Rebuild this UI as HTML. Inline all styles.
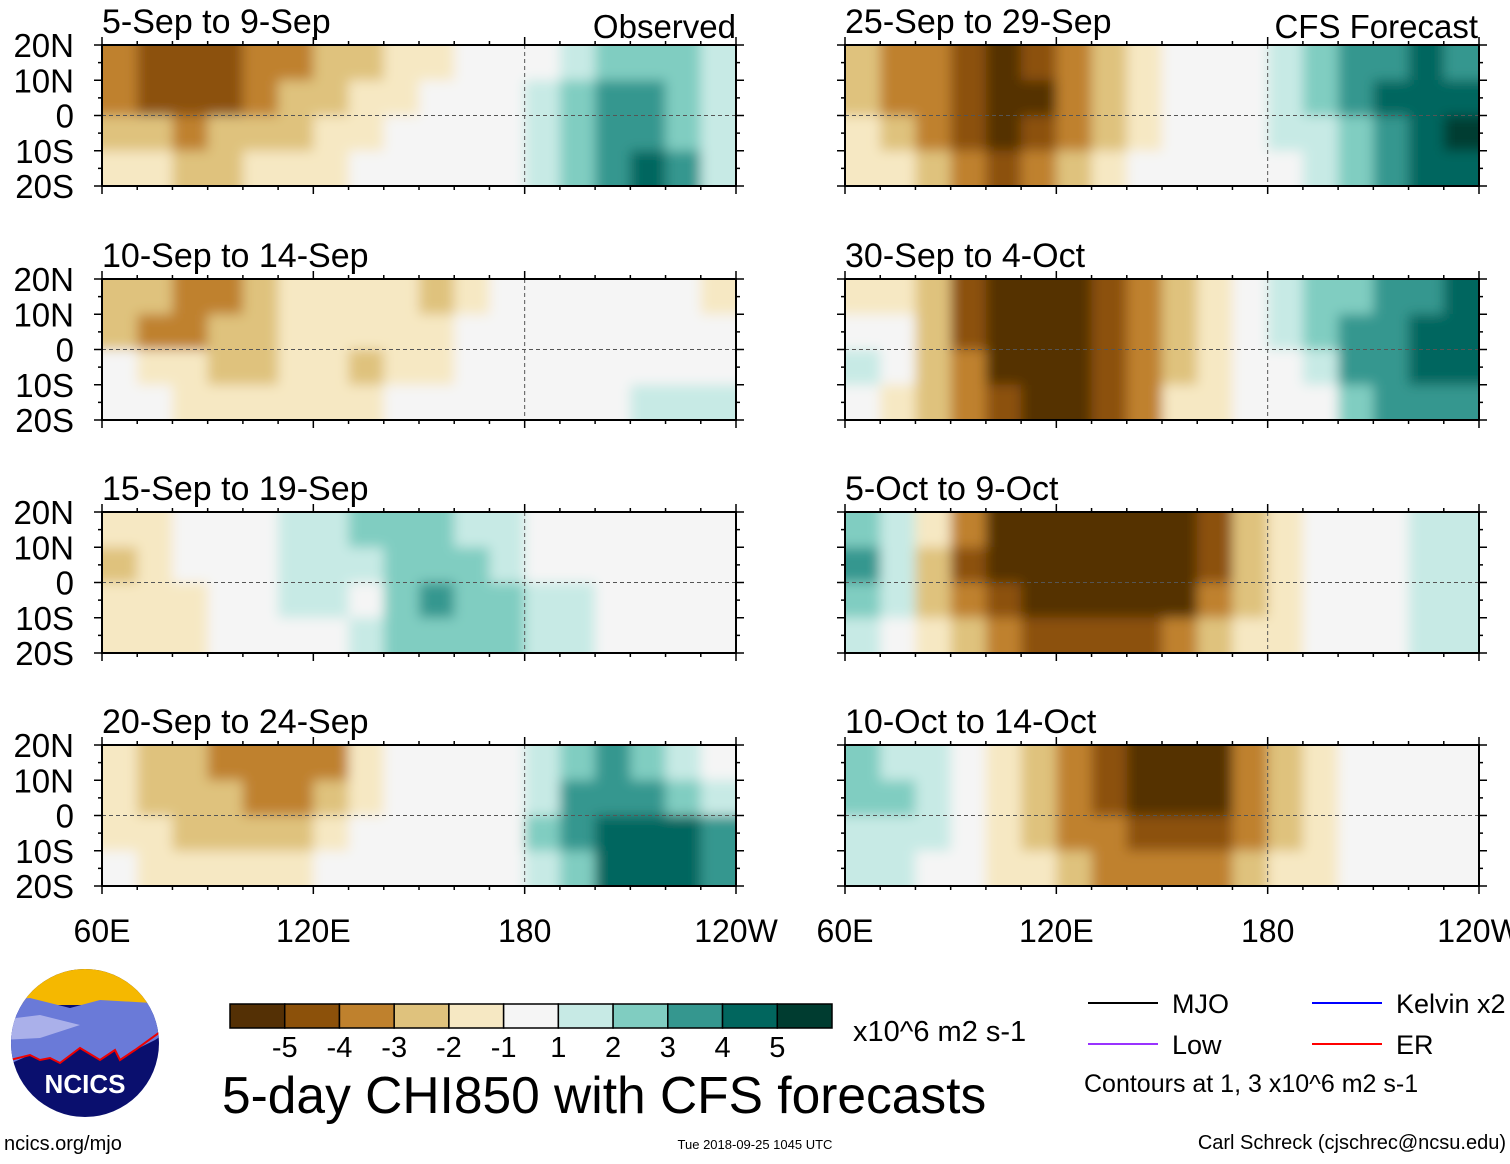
<!DOCTYPE html>
<html><head><meta charset="utf-8">
<style>
html,body{margin:0;padding:0;background:#fff;}
body{width:1510px;height:1159px;overflow:hidden;font-family:"Liberation Sans",sans-serif;}
svg text{font-family:"Liberation Sans",sans-serif;}
</style></head>
<body>
<svg id="chart" width="1510" height="1159" viewBox="0 0 1510 1159" xmlns="http://www.w3.org/2000/svg">
<defs>
<filter id="blur" filterUnits="userSpaceOnUse" x="0" y="0" width="1510" height="1159"><feGaussianBlur stdDeviation="6"/></filter>
</defs>
<g id="panels"></g>
<g id="bottom"></g>
</svg>
<script>
// ---- data ----
const lonStart = 60, lonEnd = 240, latTop = 20, latBottom = -20;
const colorBins = ["#543005","#8c510a","#bf812d","#dfc27d","#f6e8c3","#f5f5f5","#c7eae5","#80cdc1","#35978f","#01665e","#003c30"];
const colorTicks = ["-5","-4","-3","-2","-1","1","2","3","4","5"];
const panelTitles = ["5-Sep to 9-Sep","10-Sep to 14-Sep","15-Sep to 19-Sep","20-Sep to 24-Sep",
                     "25-Sep to 29-Sep","30-Sep to 4-Oct","5-Oct to 9-Oct","10-Oct to 14-Oct"];
const latLabels = ["20N","10N","0","10S","20S"];
const lonLabels = ["60E","120E","180","120W"];
const field0 = [
 [-3,-4,-4,-4,-3,-3,-2,-2,-1,-1,0,0,0,1,2,2,2,1],
 [-3,-4,-4,-4,-3,-2,-2,-1,-1,0,0,0,1,2,3,3,2,1],
 [-2,-2,-3,-2,-2,-2,-1,-1,0,0,0,0,1,2,3,3,2,1],
 [-1,-1,-2,-2,-1,-1,-1,0,0,0,0,0,1,2,3,4,3,1]];
const field1 = [
 [-2,-2,-3,-3,-2,-1,-1,-1,-1,-2,-1,0,0,0,0,0,0,-1],
 [-2,-3,-3,-2,-2,-1,-1,-1,-1,-1,0,0,0,0,0,0,0,0],
 [0,-1,-1,-2,-2,-1,-1,-2,-1,-1,0,0,0,0,0,0,0,0],
 [0,0,-1,-1,-1,-1,-1,-1,0,0,0,0,0,0,0,1,1,1]];
const field2 = [
 [-1,-1,0,0,0,1,1,2,2,2,1,1,0,0,0,0,0,0],
 [-2,-1,0,0,0,1,1,1,2,2,2,1,0,0,0,0,0,0],
 [-1,-1,-1,0,0,1,1,0,2,3,2,2,1,1,0,0,0,0],
 [-1,-1,-1,0,0,0,0,1,2,2,2,2,1,1,0,0,0,0]];
const field3 = [
 [-1,-2,-2,-3,-3,-3,-3,-1,0,0,0,0,1,2,3,2,1,0],
 [-1,-2,-2,-2,-3,-3,-2,-1,0,0,0,0,1,3,3,3,2,1],
 [-1,-1,-2,-2,-2,-2,-1,0,0,0,0,0,2,3,4,4,4,3],
 [0,-1,-1,-1,-1,-1,0,0,0,0,0,0,1,2,4,4,4,3]];
const field4 = [
 [-2,-3,-3,-4,-5,-4,-3,-2,-1,0,0,0,1,2,3,3,4,3],
 [-2,-3,-3,-4,-5,-5,-3,-2,-1,0,0,0,1,2,3,4,4,4],
 [-1,-2,-3,-4,-5,-4,-3,-2,-1,0,0,0,1,1,2,3,4,5],
 [-1,-1,-2,-3,-4,-3,-2,-1,0,0,0,0,0,1,2,3,4,4]];
const field5 = [
 [-1,-1,-2,-4,-5,-5,-5,-4,-3,-2,-1,0,1,2,2,3,3,4],
 [0,0,-2,-4,-5,-5,-5,-4,-3,-2,-1,0,1,2,3,3,4,4],
 [1,0,-2,-3,-5,-5,-5,-4,-3,-2,-1,0,0,1,3,3,4,4],
 [0,-1,-2,-3,-4,-5,-5,-4,-3,-1,-1,0,0,0,2,3,3,3]];
const field6 = [
 [2,1,-1,-3,-5,-5,-5,-5,-5,-5,-4,-2,-1,0,0,0,1,1],
 [3,1,-2,-4,-5,-5,-5,-5,-5,-5,-4,-2,-1,0,0,0,1,1],
 [2,1,-2,-3,-4,-5,-5,-5,-5,-5,-3,-2,-1,0,0,0,1,1],
 [1,0,-1,-2,-3,-4,-4,-4,-4,-3,-2,-1,-1,0,0,0,1,1]];
const field7 = [
 [2,1,1,0,-1,-2,-3,-4,-5,-5,-5,-3,-2,-1,0,0,0,0],
 [2,2,1,0,-1,-2,-3,-4,-5,-5,-5,-3,-2,-1,0,0,0,0],
 [1,1,1,0,-1,-2,-3,-3,-4,-4,-4,-3,-2,-1,0,0,0,0],
 [1,1,0,0,-1,-1,-2,-3,-3,-3,-3,-2,-1,-1,0,0,0,0]];
const fields = [field0,field1,field2,field3,field4,field5,field6,field7];

// ---- layout ----
const NS = "http://www.w3.org/2000/svg";
const colX = [102, 845], panelW = 634, rowY = [45, 279, 512, 745], panelH = 141;
function mk(tag, attrs, parent){ const e=document.createElementNS(NS,tag); for(const k in attrs) e.setAttribute(k,attrs[k]); parent.appendChild(e); return e; }
function colorFor(v){ return colorBins[Math.max(0,Math.min(10,v+5))]; }
const panelsG = document.getElementById('panels');

fields.forEach((f, p) => {
  const x0 = colX[Math.floor(p/4)], y0 = rowY[p%4];
  const xs = lon => x0 + (lon - lonStart)/(lonEnd - lonStart)*panelW;
  const ys = lat => y0 + (latTop - lat)/(latTop - latBottom)*panelH;
  const g = mk('g',{},panelsG);
  
  
  const cid = 'clip'+p;
  const cp = mk('clipPath',{id:cid},g); mk('rect',{x:x0,y:y0,width:panelW,height:panelH},cp);
  const cg = mk('g',{'clip-path':'url(#'+cid+')'},g);
  mk('rect',{x:x0,y:y0,width:panelW,height:panelH,fill:'#f5f5f5'},cg);
  const bg = mk('g',{filter:'url(#blur)'},cg);
  const nLat = f.length, nLon = f[0].length, dLon=(lonEnd-lonStart)/nLon, dLat=(latTop-latBottom)/nLat;
  f.forEach((row, r) => row.forEach((v, c) => {
    const lonA = lonStart + c*dLon, latA = latTop - r*dLat;
    const cell = mk('rect',{x:xs(lonA)-(c===0?20:0),y:ys(latA)-(r===0?20:0),
      width:xs(lonA+dLon)-xs(lonA)+1+(c===0||c===nLon-1?20:0),height:ys(latA-dLat)-ys(latA)+1+(r===0||r===nLat-1?20:0),fill:colorFor(v)},bg);
    
    
  }));
  mk('line',{x1:x0,x2:x0+panelW,y1:ys(0),y2:ys(0),stroke:'#555','stroke-width':1,'stroke-dasharray':'4,3'},g);
  mk('line',{x1:xs(180),x2:xs(180),y1:y0,y2:y0+panelH,stroke:'#555','stroke-width':1,'stroke-dasharray':'4,3'},g);
  mk('rect',{x:x0,y:y0,width:panelW,height:panelH,fill:'none',stroke:'#000','stroke-width':2},g);
  for(let lon=lonStart; lon<=lonEnd; lon+=10){
    const L = (lon%60===0)?8:4;
    mk('line',{x1:xs(lon),x2:xs(lon),y1:y0,y2:y0-L,stroke:'#000','stroke-width':1.5},g);
    mk('line',{x1:xs(lon),x2:xs(lon),y1:y0+panelH,y2:y0+panelH+L,stroke:'#000','stroke-width':1.5},g);
  }
  for(let lat=-20; lat<=20; lat+=5){
    const L = (lat%10===0)?8:4;
    mk('line',{x1:x0,x2:x0-L,y1:ys(lat),y2:ys(lat),stroke:'#000','stroke-width':1.5},g);
    mk('line',{x1:x0+panelW,x2:x0+panelW+L,y1:ys(lat),y2:ys(lat),stroke:'#000','stroke-width':1.5},g);
  }
  const t = mk('text',{x:x0,y:y0-12,'font-size':34,fill:'#000'},g); t.textContent = panelTitles[p];
  
  
  if(p<4){
    latLabels.forEach((lab,i)=>{
      const lt = mk('text',{x:74,y:y0 + i*panelH/4 + 12,'font-size':33,'text-anchor':'end',fill:'#000'},g);
      lt.textContent = lab;
      
      
    });
  }
});
[[736,'Observed','observed-label'],[1478,'CFS Forecast','cfs-forecast-label']].forEach(([x,s,n])=>{
  const t = mk('text',{x:x,y:38,'font-size':33,'text-anchor':'end'},panelsG); t.textContent=s;
  
  
});
colX.forEach(x0=>{
  lonLabels.forEach((lab,i)=>{
    const t = mk('text',{x:x0 + i*panelW/3,y:942,'font-size':32,'text-anchor':'middle'},panelsG);
    t.textContent = lab;
    
    
  });
});

// ---- bottom ----
const B = document.getElementById('bottom');
const cbX = 230, cbY = 1004, cbW = 602, cbH = 24, bw = cbW/colorBins.length;
const cb = mk('g',{},B);


colorBins.forEach((c,i)=>{
  const r = mk('rect',{x:cbX+i*bw,y:cbY,width:bw,height:cbH,fill:c,stroke:'#000','stroke-width':1.5},cb);
  
  
});
colorTicks.forEach((s,i)=>{
  const t = mk('text',{x:cbX+(i+1)*bw,y:1057,'font-size':29,'text-anchor':'middle'},cb);
  t.textContent = s;
  
  
});
let t;
t = mk('text',{x:853,y:1041,'font-size':29},B); t.textContent='x10^6 m2 s-1';
 
t = mk('text',{x:222,y:1113,'font-size':51.5},B); t.textContent='5-day CHI850 with CFS forecasts';
 
const leg = [[1088,1003,'#000','MJO'],[1312,1003,'#0000ff','Kelvin x2'],[1088,1044,'#9933ff','Low'],[1312,1044,'#ff0000','ER']];
leg.forEach(([x,y,c,s])=>{
  const g = mk('g',{},B);
  
  
  mk('line',{x1:x,x2:x+70,y1:y,y2:y,stroke:c,'stroke-width':2},g);
  const tt = mk('text',{x:x+84,y:y+10,'font-size':27},g); tt.textContent=s;
});
t = mk('text',{x:1084,y:1092,'font-size':25},B); t.textContent='Contours at 1, 3 x10^6 m2 s-1';
 
t = mk('text',{x:4,y:1150,'font-size':20},B); t.textContent='ncics.org/mjo';
 
t = mk('text',{x:755,y:1149,'font-size':13,'text-anchor':'middle'},B); t.textContent='Tue 2018-09-25 1045 UTC';
 
t = mk('text',{x:1506,y:1149,'font-size':20,'text-anchor':'end'},B); t.textContent='Carl Schreck (cjschrec@ncsu.edu)';
 
const lg = mk('g',{},B);


const lc = mk('clipPath',{id:'logoclip'},lg); mk('circle',{cx:85,cy:1043,r:74},lc);
const lgi = mk('g',{'clip-path':'url(#logoclip)'},lg);
mk('rect',{x:0,y:960,width:170,height:170,fill:'#0a0f6e'},lgi);
mk('rect',{x:0,y:960,width:170,height:45,fill:'#f5b800'},lgi);
mk('path',{d:'M0 1000 L30 998 L70 1008 L100 1000 L170 1004 L170 1030 L155 1040 L135 1050 L120 1060 L115 1050 L100 1060 L80 1048 L60 1063 L50 1058 L40 1060 L30 1055 L0 1068 Z',fill:'#6a7ad8'},lgi);
mk('path',{d:'M0 1020 L40 1015 L80 1025 L40 1038 L0 1040 Z',fill:'#aab0ea'},lgi);
mk('path',{d:'M10 1060 L30 1055 L40 1060 L50 1058 L60 1063 L80 1048 L100 1060 L115 1050 L120 1060 L135 1050 L160 1032',fill:'none',stroke:'#e00','stroke-width':2},lgi);
t = mk('text',{x:85,y:1093,'font-size':26,'font-weight':'bold','text-anchor':'middle',fill:'#fff'},lg); t.textContent='NCICS';
</script>
</body></html>
